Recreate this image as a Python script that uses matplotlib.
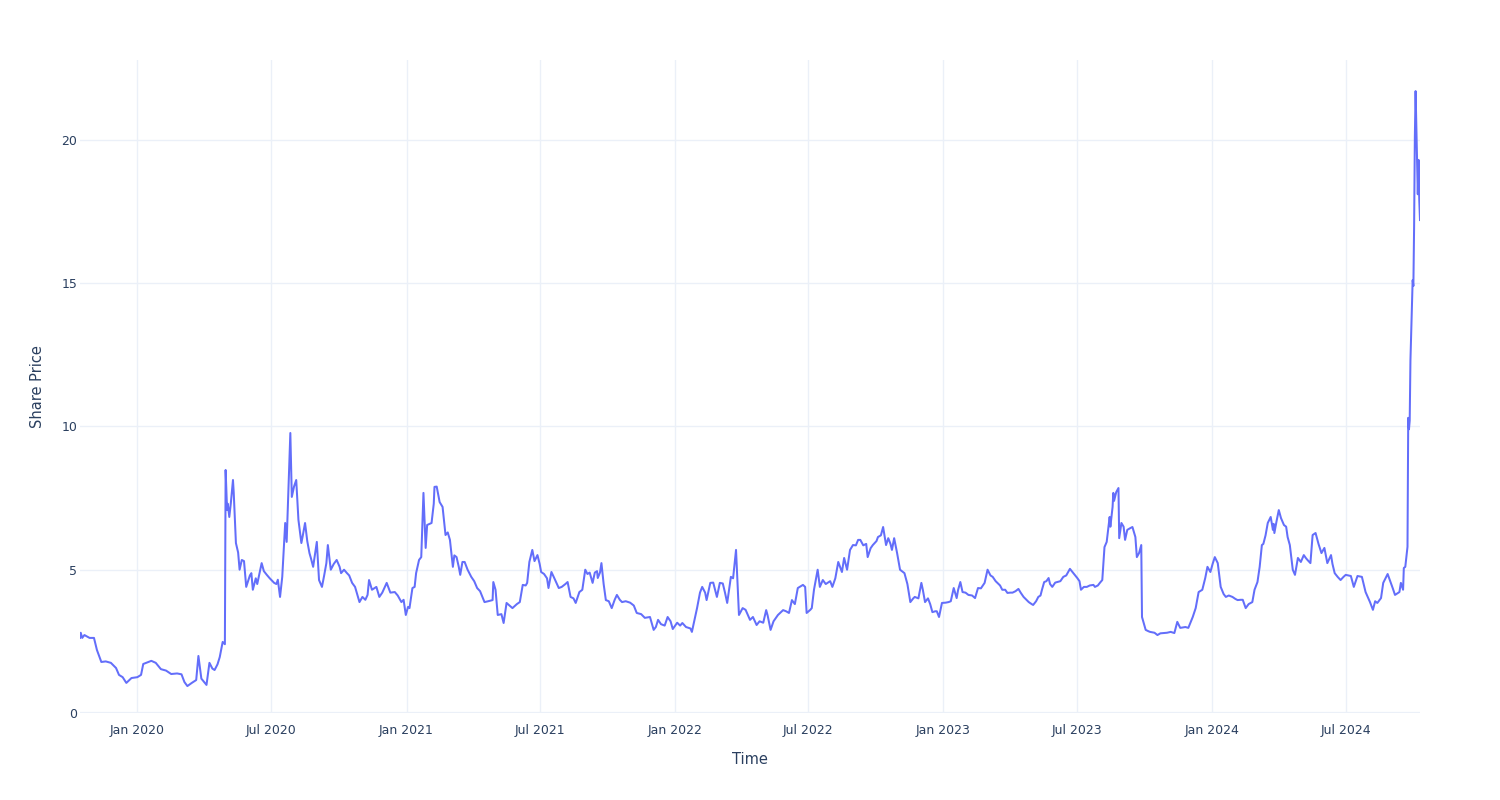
import matplotlib
matplotlib.use("Agg")
import matplotlib.pyplot as plt
import matplotlib.dates as mdates
import pandas as pd

dates = [
    "2019-10-15", "2019-10-16", "2019-10-18", "2019-10-21", "2019-10-28", "2019-11-03", "2019-11-07",
    "2019-11-13", "2019-11-19", "2019-11-26", "2019-12-03", "2019-12-07", "2019-12-12", "2019-12-17",
    "2019-12-24", "2020-01-01", "2020-01-06", "2020-01-09", "2020-01-20", "2020-01-26", "2020-02-02",
    "2020-02-09", "2020-02-16", "2020-02-24", "2020-03-01", "2020-03-05", "2020-03-09", "2020-03-15",
    "2020-03-21", "2020-03-24", "2020-03-28", "2020-04-04", "2020-04-08", "2020-04-12", "2020-04-15",
    "2020-04-19", "2020-04-22", "2020-04-26", "2020-04-29", "2020-04-30", "2020-05-02", "2020-05-03",
    "2020-05-05", "2020-05-07", "2020-05-10", "2020-05-11", "2020-05-14", "2020-05-17", "2020-05-19",
    "2020-05-22", "2020-05-25", "2020-05-28", "2020-06-02", "2020-06-04", "2020-06-06", "2020-06-10",
    "2020-06-12", "2020-06-18", "2020-06-21", "2020-06-25", "2020-06-29", "2020-07-05", "2020-07-08",
    "2020-07-10", "2020-07-13", "2020-07-16", "2020-07-20", "2020-07-22", "2020-07-27", "2020-07-29",
    "2020-08-01", "2020-08-04", "2020-08-07", "2020-08-11", "2020-08-13", "2020-08-16", "2020-08-19",
    "2020-08-22", "2020-08-24", "2020-08-27", "2020-09-01", "2020-09-04", "2020-09-08", "2020-09-11",
    "2020-09-14", "2020-09-16", "2020-09-20", "2020-09-24", "2020-09-28", "2020-10-02", "2020-10-04",
    "2020-10-08", "2020-10-12", "2020-10-15", "2020-10-19", "2020-10-23", "2020-10-29", "2020-11-02",
    "2020-11-06", "2020-11-09", "2020-11-11", "2020-11-15", "2020-11-21", "2020-11-25", "2020-11-29",
    "2020-12-05", "2020-12-10", "2020-12-16", "2020-12-20", "2020-12-25", "2020-12-28", "2020-12-31",
    "2021-01-03", "2021-01-05", "2021-01-09", "2021-01-12", "2021-01-14", "2021-01-18", "2021-01-21",
    "2021-01-24", "2021-01-27", "2021-01-29", "2021-02-04", "2021-02-07", "2021-02-08", "2021-02-11",
    "2021-02-15", "2021-02-19", "2021-02-23", "2021-02-26", "2021-03-01", "2021-03-05", "2021-03-07",
    "2021-03-10", "2021-03-13", "2021-03-15", "2021-03-18", "2021-03-21", "2021-03-25", "2021-03-30",
    "2021-04-03", "2021-04-07", "2021-04-11", "2021-04-17", "2021-04-22", "2021-04-28", "2021-04-29",
    "2021-05-02", "2021-05-05", "2021-05-10", "2021-05-13", "2021-05-17", "2021-05-21", "2021-05-25",
    "2021-05-31", "2021-06-04", "2021-06-08", "2021-06-12", "2021-06-14", "2021-06-17", "2021-06-21",
    "2021-06-24", "2021-06-28", "2021-07-01", "2021-07-03", "2021-07-07", "2021-07-11", "2021-07-13",
    "2021-07-17", "2021-07-21", "2021-07-27", "2021-07-31", "2021-08-05", "2021-08-08", "2021-08-12",
    "2021-08-16", "2021-08-19", "2021-08-24", "2021-08-28", "2021-09-01", "2021-09-04", "2021-09-07",
    "2021-09-11", "2021-09-14", "2021-09-17", "2021-09-18", "2021-09-21", "2021-09-23", "2021-09-26",
    "2021-09-29", "2021-10-03", "2021-10-07", "2021-10-11", "2021-10-14", "2021-10-18", "2021-10-21",
    "2021-10-26", "2021-11-01", "2021-11-06", "2021-11-10", "2021-11-16", "2021-11-21", "2021-11-28",
    "2021-12-03", "2021-12-06", "2021-12-09", "2021-12-13", "2021-12-18", "2021-12-22", "2021-12-26",
    "2021-12-29", "2022-01-04", "2022-01-08", "2022-01-11", "2022-01-16", "2022-01-22", "2022-01-24",
    "2022-01-28", "2022-01-31", "2022-02-04", "2022-02-07", "2022-02-11", "2022-02-13", "2022-02-18",
    "2022-02-22", "2022-02-27", "2022-03-03", "2022-03-07", "2022-03-10", "2022-03-13", "2022-03-18",
    "2022-03-21", "2022-03-25", "2022-03-29", "2022-04-03", "2022-04-07", "2022-04-13", "2022-04-17",
    "2022-04-22", "2022-04-26", "2022-05-01", "2022-05-05", "2022-05-07", "2022-05-11", "2022-05-15",
    "2022-05-21", "2022-05-28", "2022-06-01", "2022-06-05", "2022-06-09", "2022-06-13", "2022-06-17",
    "2022-06-24", "2022-06-27", "2022-06-29", "2022-07-04", "2022-07-06", "2022-07-09", "2022-07-14",
    "2022-07-17", "2022-07-21", "2022-07-25", "2022-07-31", "2022-08-03", "2022-08-07", "2022-08-11",
    "2022-08-16", "2022-08-19", "2022-08-23", "2022-08-27", "2022-08-31", "2022-09-04", "2022-09-07",
    "2022-09-10", "2022-09-14", "2022-09-18", "2022-09-20", "2022-09-24", "2022-09-27", "2022-10-02",
    "2022-10-04", "2022-10-08", "2022-10-11", "2022-10-15", "2022-10-18", "2022-10-21", "2022-10-23",
    "2022-10-26", "2022-10-30", "2022-11-03", "2022-11-09", "2022-11-13", "2022-11-17", "2022-11-21",
    "2022-11-23", "2022-11-28", "2022-12-02", "2022-12-04", "2022-12-07", "2022-12-11", "2022-12-14",
    "2022-12-17", "2022-12-21", "2022-12-23", "2022-12-26", "2022-12-30", "2023-01-04", "2023-01-08",
    "2023-01-11", "2023-01-15", "2023-01-19", "2023-01-21", "2023-01-24", "2023-01-27", "2023-01-31",
    "2023-02-04", "2023-02-09", "2023-02-13", "2023-02-17", "2023-02-21", "2023-02-26", "2023-03-02",
    "2023-03-06", "2023-03-09", "2023-03-13", "2023-03-15", "2023-03-19", "2023-03-22", "2023-03-26",
    "2023-03-29", "2023-04-02", "2023-04-05", "2023-04-09", "2023-04-13", "2023-04-16", "2023-04-20",
    "2023-04-24", "2023-04-27", "2023-05-01", "2023-05-03", "2023-05-07", "2023-05-10", "2023-05-13",
    "2023-05-15", "2023-05-18", "2023-05-21", "2023-05-24", "2023-05-26", "2023-05-29", "2023-06-02",
    "2023-06-05", "2023-06-09", "2023-06-13", "2023-06-17", "2023-06-22", "2023-06-26", "2023-07-02",
    "2023-07-05", "2023-07-07", "2023-07-11", "2023-07-15", "2023-07-19", "2023-07-24", "2023-07-26",
    "2023-07-30", "2023-08-02", "2023-08-05", "2023-08-08", "2023-08-11", "2023-08-13", "2023-08-15",
    "2023-08-16", "2023-08-19", "2023-08-20", "2023-08-21", "2023-08-24", "2023-08-27", "2023-08-28",
    "2023-08-31", "2023-09-03", "2023-09-05", "2023-09-08", "2023-09-12", "2023-09-15", "2023-09-19",
    "2023-09-21", "2023-09-24", "2023-09-27", "2023-09-28", "2023-10-03", "2023-10-07", "2023-10-09",
    "2023-10-15", "2023-10-19", "2023-10-23", "2023-10-27", "2023-11-01", "2023-11-06", "2023-11-11",
    "2023-11-15", "2023-11-19", "2023-11-26", "2023-11-30", "2023-12-06", "2023-12-10", "2023-12-14",
    "2023-12-19", "2023-12-23", "2023-12-26", "2023-12-30", "2024-01-02", "2024-01-05", "2024-01-09",
    "2024-01-12", "2024-01-13", "2024-01-17", "2024-01-20", "2024-01-24", "2024-01-29", "2024-02-02",
    "2024-02-05", "2024-02-09", "2024-02-12", "2024-02-16", "2024-02-20", "2024-02-25", "2024-02-28",
    "2024-03-03", "2024-03-06", "2024-03-09", "2024-03-11", "2024-03-14", "2024-03-17", "2024-03-21",
    "2024-03-24", "2024-03-25", "2024-03-26", "2024-03-29", "2024-04-01", "2024-04-04", "2024-04-08",
    "2024-04-11", "2024-04-13", "2024-04-16", "2024-04-20", "2024-04-23", "2024-04-27", "2024-05-01",
    "2024-05-05", "2024-05-08", "2024-05-10", "2024-05-14", "2024-05-17", "2024-05-21", "2024-05-25",
    "2024-05-29", "2024-06-02", "2024-06-06", "2024-06-11", "2024-06-13", "2024-06-16", "2024-06-20",
    "2024-06-24", "2024-06-28", "2024-07-01", "2024-07-08", "2024-07-12", "2024-07-17", "2024-07-23",
    "2024-07-28", "2024-08-03", "2024-08-07", "2024-08-10", "2024-08-13", "2024-08-18", "2024-08-21",
    "2024-08-27", "2024-08-31", "2024-09-03", "2024-09-06", "2024-09-12", "2024-09-14", "2024-09-17",
    "2024-09-18", "2024-09-20", "2024-09-23", "2024-09-24", "2024-09-25", "2024-09-26", "2024-09-27",
    "2024-09-30", "2024-10-01", "2024-10-02", "2024-10-03", "2024-10-04", "2024-10-07", "2024-10-08",
    "2024-10-09", "2024-10-10",
]

prices = [
    2.62, 2.80, 2.62, 2.72, 2.62, 2.62, 2.20,
    1.78, 1.80, 1.75, 1.57, 1.33, 1.25, 1.05,
    1.22, 1.25, 1.33, 1.71, 1.82, 1.75, 1.53,
    1.48, 1.36, 1.38, 1.35, 1.08, 0.94, 1.05,
    1.15, 1.99, 1.20, 0.98, 1.75, 1.55, 1.50,
    1.70, 1.95, 2.48, 2.40, 8.48, 7.08, 7.30,
    6.84, 7.30, 8.13, 7.70, 5.93, 5.60, 5.00,
    5.34, 5.30, 4.40, 4.80, 4.88, 4.30, 4.70,
    4.50, 5.23, 4.95, 4.82, 4.70, 4.54, 4.50,
    4.65, 4.05, 4.75, 6.63, 5.97, 9.77, 7.54,
    7.90, 8.13, 6.74, 5.93, 6.20, 6.63, 6.00,
    5.58, 5.40, 5.10, 5.97, 4.64, 4.40, 4.80,
    5.23, 5.86, 5.00, 5.20, 5.34, 5.10, 4.88,
    5.00, 4.88, 4.80, 4.54, 4.40, 3.87, 4.05,
    3.95, 4.12, 4.64, 4.30, 4.40, 4.05, 4.20,
    4.54, 4.20, 4.22, 4.10, 3.87, 3.95, 3.42,
    3.70, 3.66, 4.36, 4.40, 4.88, 5.34, 5.44,
    7.68, 5.76, 6.56, 6.63, 7.30, 7.89, 7.90,
    7.36, 7.19, 6.21, 6.30, 6.04, 5.10, 5.50,
    5.44, 5.10, 4.82, 5.27, 5.27, 5.00, 4.75,
    4.60, 4.36, 4.25, 3.87, 3.90, 3.94, 4.57,
    4.30, 3.42, 3.45, 3.14, 3.84, 3.75, 3.66,
    3.80, 3.87, 4.47, 4.45, 4.54, 5.27, 5.69,
    5.30, 5.51, 5.20, 4.92, 4.85, 4.70, 4.36,
    4.92, 4.70, 4.36, 4.40, 4.50, 4.57, 4.05,
    4.00, 3.84, 4.22, 4.30, 5.00, 4.85, 4.90,
    4.54, 4.90, 4.95, 4.71, 4.90, 5.23, 4.50,
    3.94, 3.90, 3.66, 3.95, 4.12, 3.95, 3.87,
    3.90, 3.85, 3.75, 3.49, 3.45, 3.32, 3.35,
    2.90, 3.00, 3.25, 3.10, 3.05, 3.35, 3.20,
    2.93, 3.15, 3.05, 3.14, 3.00, 2.95, 2.83,
    3.30, 3.66, 4.20, 4.40, 4.20, 3.94, 4.54,
    4.55, 4.05, 4.54, 4.52, 4.20, 3.84, 4.75,
    4.70, 5.69, 3.42, 3.66, 3.60, 3.25, 3.35,
    3.07, 3.20, 3.15, 3.59, 3.40, 2.90, 3.20,
    3.42, 3.59, 3.55, 3.49, 3.94, 3.80, 4.36,
    4.47, 4.40, 3.49, 3.60, 3.66, 4.30, 5.00,
    4.40, 4.64, 4.50, 4.60, 4.40, 4.70, 5.27,
    4.92, 5.41, 5.00, 5.69, 5.86, 5.85, 6.04,
    6.04, 5.85, 5.90, 5.44, 5.75, 5.86, 6.00,
    6.14, 6.20, 6.49, 5.86, 6.10, 5.90, 5.69,
    6.10, 5.58, 5.00, 4.88, 4.50, 3.87, 4.00,
    4.05, 4.00, 4.54, 4.30, 3.87, 4.00, 3.80,
    3.52, 3.55, 3.55, 3.35, 3.84, 3.85, 3.87,
    3.90, 4.36, 4.01, 4.30, 4.57, 4.22, 4.20,
    4.12, 4.10, 4.01, 4.36, 4.35, 4.54, 5.00,
    4.80, 4.75, 4.60, 4.55, 4.45, 4.30, 4.30,
    4.19, 4.20, 4.20, 4.25, 4.33, 4.20, 4.05,
    3.95, 3.87, 3.80, 3.77, 3.90, 4.05, 4.10,
    4.30, 4.57, 4.60, 4.71, 4.50, 4.40, 4.55,
    4.57, 4.60, 4.75, 4.80, 5.03, 4.90, 4.71,
    4.60, 4.30, 4.40, 4.40, 4.45, 4.47, 4.40,
    4.45, 4.55, 4.64, 5.79, 5.97, 6.40, 6.84,
    6.50, 7.19, 7.68, 7.40, 7.71, 7.85, 6.10,
    6.63, 6.50, 6.04, 6.39, 6.45, 6.49, 6.14,
    5.44, 5.58, 5.86, 3.35, 2.90, 2.85, 2.83,
    2.80, 2.72, 2.78, 2.79, 2.80, 2.83, 2.79,
    3.18, 2.97, 3.00, 2.97, 3.35, 3.66, 4.22,
    4.30, 4.71, 5.10, 4.92, 5.20, 5.44, 5.23,
    4.60, 4.40, 4.15, 4.05, 4.10, 4.05, 3.98,
    3.94, 3.95, 3.95, 3.66, 3.80, 3.87, 4.30,
    4.57, 5.10, 5.86, 5.90, 6.20, 6.63, 6.84,
    6.39, 6.60, 6.28, 6.70, 7.08, 6.80, 6.56,
    6.50, 6.14, 5.86, 5.00, 4.82, 5.41, 5.27,
    5.51, 5.40, 5.34, 5.23, 6.21, 6.28, 5.90,
    5.58, 5.76, 5.23, 5.51, 5.20, 4.88, 4.75,
    4.64, 4.75, 4.82, 4.78, 4.40, 4.78, 4.75,
    4.22, 3.87, 3.60, 3.90, 3.84, 4.01, 4.54,
    4.85, 4.57, 4.35, 4.12, 4.22, 4.54, 4.30,
    5.06, 5.10, 5.80, 10.30, 9.90, 10.20, 12.30,
    15.10, 14.90, 17.00, 20.10, 21.70, 18.10, 19.30,
    17.90, 17.20,
]

x_ticks = ["2020-01-01", "2020-07-01", "2021-01-01", "2021-07-01", "2022-01-01",
           "2022-07-01", "2023-01-01", "2023-07-01", "2024-01-01", "2024-07-01"]
y_ticks = [0, 5, 10, 15, 20]

x_title = "Time"
y_title = "Share Price"

TEXT = "#2a3f5f"
GRID = "#EBF0F8"
LINE = "#636EFA"

plt.rcParams["font.family"] = ["DejaVu Sans"]

d = pd.to_datetime(dates)
fig = plt.figure(figsize=(15, 8), dpi=100)
ax = fig.add_axes([80 / 1500, 87 / 800, 1340 / 1500, 653 / 800])

ax.plot(d, prices, color=LINE, lw=1.45, solid_joinstyle="round", zorder=3)

ax.set_xlim(d[0], d[-1])
ax.set_ylim(0, max(prices) * 1.05)

xt = pd.to_datetime(x_ticks)
ax.set_xticks(xt)
ax.set_xticklabels([t.strftime("%b %Y") for t in xt])
ax.set_yticks(y_ticks)
ax.set_yticklabels([str(v) for v in y_ticks])

ax.grid(True, color=GRID, lw=1.0, zorder=0)
ax.axhline(0, color=GRID, lw=1.6, zorder=1)
for s in ax.spines.values():
    s.set_visible(False)
ax.tick_params(axis="both", length=0, colors=TEXT, labelsize=9)
ax.tick_params(axis="x", pad=8)
ax.tick_params(axis="y", pad=2)

ax.set_xlabel(x_title, color=TEXT, fontsize=10.5, labelpad=11)
ax.set_ylabel(y_title, color=TEXT, fontsize=10.5, labelpad=12)

fig.savefig("out.png", dpi=100, facecolor="white")
